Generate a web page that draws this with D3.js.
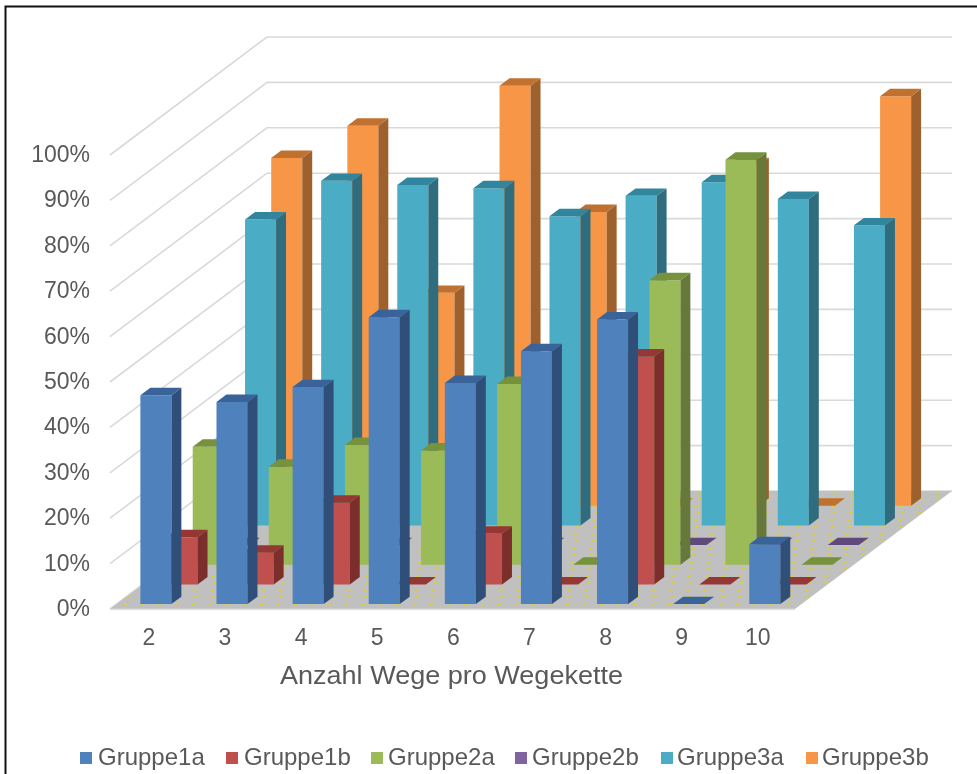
<!DOCTYPE html>
<html><head><meta charset="utf-8">
<style>html,body{margin:0;padding:0;background:#fff}svg{display:block;filter:blur(0.4px)}text{font-family:"Liberation Sans",Arial,sans-serif;fill:#595959}</style>
<script src="https://cdn.jsdelivr.net/npm/d3@7/dist/d3.min.js"></script>
</head><body><svg id="c" width="977" height="774"></svg>
<script>
const categories=["2","3","4","5","6","7","8","9","10"];
const seriesNames=["Gruppe1a","Gruppe1b","Gruppe2a","Gruppe2b","Gruppe3a","Gruppe3b"];
const gruppe1a=[46,44.5,47.8,63.2,48.7,55.7,62.7,0,13.2];
const gruppe1b=[10.4,7,18,0,11.2,0,50.2,0,0];
const gruppe2a=[26,21.6,26.4,25.2,39.8,0,62.7,89.2,0];
const gruppe2b=[0,0,0,0,0,0,0,0,0];
const gruppe3a=[67.4,75.9,75,74.3,68.1,72.6,75.6,71.9,66.1];
const gruppe3b=[76.6,83.7,46.9,92.5,64.7,0,75,0,90.2];
const ticks=[0,10,20,30,40,50,60,70,80,90,100];
const faceColors=["#4f81bd","#c0504d","#9bbb59","#8064a2","#4bacc6","#f79646"];
const sideColors=["#2f4f78","#7c2e2d","#66793a","#4d3b66","#2f6d7e","#9e602c"];
const topColors=["#3a6499","#953735","#76923c","#604a7b","#31859c","#c0702f"];
const allValues=[gruppe1a,gruppe1b,gruppe2a,gruppe2b,gruppe3a,gruppe3b];

const svg=d3.select("#c");
const W=977,H=774;
// oblique 3D projection
const x0=110,x1=795,yFloor=609,depthX=157,depthY=118;
const x=d3.scaleBand().domain(categories).range([x0,x1]).paddingInner(45/76).paddingOuter(22.5/76).align(0.53);
const v=d3.scaleLinear().domain([0,100]).range([0,454]);
const z=d3.scaleBand().domain(seriesNames).range([0,1]).paddingInner(0.62).paddingOuter(0.31).align(0.4);
const proj=(px,d,h)=>[px+d*depthX,yFloor-d*depthY-h];
const pts=a=>a.map(p=>p.join(",")).join(" ");

svg.append("rect").attr("x",5.5).attr("y",6.5).attr("width",W+10).attr("height",H+10).attr("fill","#fff").attr("stroke","#111").attr("stroke-width",2);

const defs=svg.append("defs");
const pat=defs.append("pattern").attr("id","dots").attr("patternUnits","userSpaceOnUse").attr("width",34).attr("height",14)
 .attr("patternTransform","translate(110,609) skewX(-53)");
pat.append("rect").attr("width",34).attr("height",14).attr("fill","#c0c0c0");
[[0,1],[17,1],[8,8],[25,8]].forEach(p=>pat.append("rect").attr("x",p[0]).attr("y",p[1]).attr("width",2.6).attr("height",2).attr("fill","#dcd030"));

// gridlines on the side and back wall
const g=svg.append("g");
ticks.forEach(t=>{
  const h=v(t);
  g.append("polyline").attr("points",pts([proj(x0,0,h),proj(x0,1,h),proj(x1,1,h)])).attr("fill","none").attr("stroke","#d9d9d9").attr("stroke-width",1.6);
});
// floor
svg.append("polygon").attr("points",pts([proj(x0,0,0),proj(x0,1,0),proj(x1,1,0),proj(x1,0,0)])).attr("fill","url(#dots)");
svg.append("line").attr("x1",x0).attr("x2",x1).attr("y1",yFloor+0.5).attr("y2",yFloor+0.5).attr("stroke","#e2e2e2").attr("stroke-width",1.5);

// bars, back row first
const bw=x.bandwidth(), dw=z.bandwidth();
for(let s=seriesNames.length-1;s>=0;s--){
  const d0=z(seriesNames[s]), d1=d0+dw;
  const row=svg.append("g");
  categories.forEach((c,i)=>{
    const h=v(allValues[s][i]), l=x(c), r=l+bw;
    if(h>0){
      row.append("polygon").attr("points",pts([proj(l,d0,0),proj(r,d0,0),proj(r,d0,h),proj(l,d0,h)])).attr("fill",faceColors[s]);
      row.append("polygon").attr("points",pts([proj(r,d0,0),proj(r,d1,0),proj(r,d1,h),proj(r,d0,h)])).attr("fill",sideColors[s]);
    }
    row.append("polygon").attr("points",pts([proj(l,d0,h),proj(r,d0,h),proj(r,d1,h),proj(l,d1,h)])).attr("fill",topColors[s]);
  });
}

// value axis labels
const yAxis=d3.scaleLinear().domain([0,100]).range([yFloor,yFloor-454]);
svg.selectAll("text.t").data(ticks).join("text").attr("class","t").attr("x",90).attr("y",t=>yAxis(t)+7).attr("text-anchor","end")
  .attr("font-size",23).text(t=>t+"%");
// category labels
svg.selectAll("text.c").data(categories).join("text").attr("class","c").attr("x",c=>x(c)+15).attr("y",645).attr("text-anchor","middle").attr("font-size",23).text(c=>c);
svg.append("text").attr("x",280).attr("y",684).attr("font-size",25.5).attr("textLength",343).attr("lengthAdjust","spacingAndGlyphs").text("Anzahl Wege pro Wegekette");
// legend
const legendX=[80,226,371,515,661,806];
const legendTextX=[98,244,388,532,677,822];
seriesNames.forEach((n,i)=>{
  svg.append("rect").attr("x",legendX[i]).attr("y",752).attr("width",12).attr("height",12).attr("fill",faceColors[i]);
  svg.append("text").attr("x",legendTextX[i]).attr("y",765).attr("font-size",24).text(n);
});
</script></body></html>
